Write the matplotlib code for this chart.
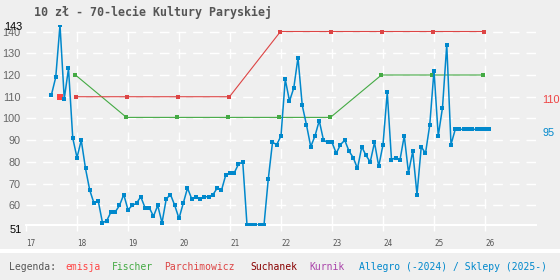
#!/usr/bin/env python3
"""Price history of the 10 zl coin '70-lecie Kultury Paryskiej' (Allegro / shops vs catalogues)."""
import numpy as np
import matplotlib
matplotlib.use("Agg")
import matplotlib.pyplot as plt
import matplotlib.patches as mpatches

BG = "#efefef"
MONO = "DejaVu Sans Mono"
SANS = "Liberation Sans"

plt.rcParams.update({
    "font.family":      MONO,
    "figure.facecolor": BG,
    "axes.facecolor":   BG,
    "savefig.facecolor": BG,
})

TITLE = "10 zł - 70-lecie Kultury Paryskiej"

# --- data (x in two-digit years, monthly for Allegro) ---
ALLEGRO_START = 17.5  # 2017-07
ALLEGRO = [
    111, 119, 143, 109, 123, 91,
    82, 90, 77, 67, 61, 62, 52, 53, 57, 57, 60, 65,
    58, 60, 61, 64, 59, 59, 55, 60, 52, 63, 65, 60,
    54, 61, 68, 63, 64, 63, 64, 64, 65, 68, 67, 74,
    75, 75, 79, 80, 51, 51, 51, 51, 51, 72, 89, 88,
    92, 118, 108, 114, 128, 106, 97, 87, 92, 99, 90, 89,
    89, 84, 88, 90, 85, 82, 77, 87, 83, 80, 89, 78,
    88, 112, 81, 82, 81, 92, 75, 85, 65, 87, 84, 97,
    122, 92, 105, 134, 88, 95, 95, 95, 95, 95, 95, 95,
    95, 95,
]

FISCHER_X = [17.97, 18.97, 19.97, 20.97, 21.97, 22.97, 23.97, 24.97, 25.97]
FISCHER = [120, 100.5, 100.5, 100.5, 100.5, 100.5, 120, 120, 120]

PARCH_X = [17.99, 18.99, 19.99, 20.99, 21.99, 22.99, 23.99, 24.99, 25.99]
PARCH = [110, 110, 110, 110, 140, 140, 140, 140, 140]

EMISJA_X = [17.67]
EMISJA = [110]

YTICKS = [60, 70, 80, 90, 100, 110, 120, 130, 140]
XTICKS = [17, 18, 19, 20, 21, 22, 23, 24, 25, 26]

LEGEND = [
    ("Legenda:", "#555555", 9),
    ("emisja", "#ff4444", 65),
    ("Fischer", "#44aa44", 111.5),
    ("Parchimowicz", "#dd4444", 164),
    ("Suchanek", "#880000", 250),
    ("Kurnik", "#aa44aa", 309),
    ("Allegro (-2024) / Sklepy (2025-)", "#0088cc", 359),
]

BLUE = "#0088cc"
GREEN = "#44aa44"
RED = "#dd4444"
W, H = 560, 280


def main():
    fig = plt.figure(figsize=(W / 100, H / 100), dpi=100)
    ax = fig.add_axes([26 / W, 55 / H, 510 / W, 200 / H])
    ax.set_xlim(17, 27)
    ax.set_ylim(51, 143)
    for s in ax.spines.values():
        s.set_visible(False)

    # grid
    dash = (0, (7, 5))
    for y in YTICKS:
        ax.axhline(y, color="white", lw=1, ls=dash, zorder=1)
    for x in XTICKS[1:]:
        ax.axvline(x, color="white", lw=1, ls=dash, zorder=1)
    ax.axhline(51, color="white", lw=1.5, zorder=1, clip_on=False)

    ax.set_yticks(YTICKS)
    ax.set_yticklabels([str(v) for v in YTICKS], family=SANS, fontsize=7.8, color="#666666")
    ax.tick_params(axis="y", length=0, pad=4)
    ax.set_xticks(XTICKS)
    ax.set_xticklabels([str(v) for v in XTICKS], fontsize=5.5, color="#555555")
    ax.tick_params(axis="x", length=4, width=1, color="white", pad=6)
    for lab in ax.get_xticklabels():
        lab.set_ha("left")

    # series
    ax.plot(FISCHER_X, FISCHER, color=GREEN, lw=0.8, marker="s", ms=2.4,
            mew=0, mfc=GREEN, zorder=3)
    ax.plot(PARCH_X, PARCH, color=RED, lw=0.8, marker="s", ms=2.4,
            mew=0, mfc=RED, zorder=3)
    ax.plot(EMISJA_X, EMISJA, ls="none", marker="s", ms=4.2, mew=0,
            color="#ff4444", zorder=4)
    ax_x = ALLEGRO_START + np.arange(len(ALLEGRO)) / 12
    ax.plot(ax_x, ALLEGRO, color=BLUE, lw=1.1, marker="s", ms=3.0,
            mew=0, mfc=BLUE, zorder=5)

    # min / max labels on the y axis
    ax.text(-0.008, 142.0, "143", transform=ax.get_yaxis_transform(), ha="right",
            va="center", family=SANS, fontsize=7.8, color="black")
    ax.text(-0.008, 48.8, "51", transform=ax.get_yaxis_transform(), ha="right",
            va="center", family=SANS, fontsize=7.8, color="black")

    # last values at the right
    ax.text(27.12, 108.3, "110", ha="left", va="center", family=SANS,
            fontsize=7.8, color="#ee4444", clip_on=False)
    ax.text(27.12, 93.1, "95", ha="left", va="center", family=SANS,
            fontsize=7.8, color=BLUE, clip_on=False)

    fig.text(34 / W, 1 - 12 / H, TITLE, ha="left", va="center", fontsize=8.4,
             fontweight="bold", color="#555555")

    # separator + legend line
    fig.add_artist(mpatches.Rectangle((0, 1 - 253 / H), 1, 4 / H,
                                      transform=fig.transFigure, color="white", lw=0))
    for txt, col, px in LEGEND:
        fig.text(px / W, 1 - 267 / H, txt, ha="left", va="center",
                 fontsize=7, color=col)

    fig.savefig("out.png", dpi=100)


if __name__ == "__main__":
    main()
